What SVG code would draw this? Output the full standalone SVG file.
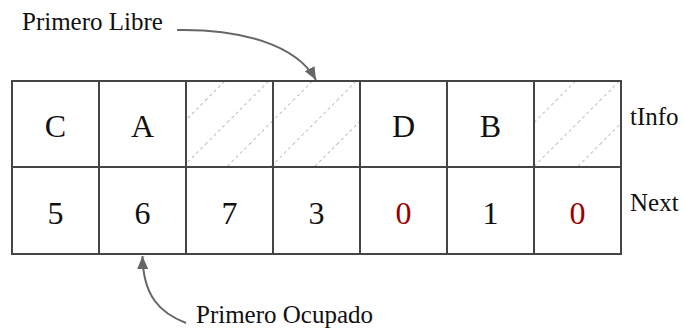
<svg xmlns="http://www.w3.org/2000/svg" width="683" height="329" viewBox="0 0 683 329">
<style>
.cell{fill:none;stroke:#444;stroke-width:2}
.val{font-family:"Liberation Serif",serif;font-size:32px;fill:#111;text-anchor:middle}
.red{fill:#990000}
.lbl{font-family:"Liberation Serif",serif;font-size:25px;fill:#111}
.hatch{stroke:#bbb;stroke-width:1;stroke-dasharray:3,3}
.conn{fill:none;stroke:#666;stroke-width:2}
</style>
<defs>
<pattern id="hp" width="31" height="31" patternUnits="userSpaceOnUse" patternTransform="rotate(-45 186 81)">
<line class="hatch" x1="0" y1="15.5" x2="31" y2="15.5"/>
</pattern>
<marker id="ah" markerUnits="userSpaceOnUse" markerWidth="14" markerHeight="12" refX="13" refY="5.5" orient="auto">
<path d="M0,0 L13,5.5 L0,11 z" fill="#666"/>
</marker>
</defs>
<rect width="683" height="329" fill="#fff"/>
<g id="hatches">
<rect x="186" y="81" width="87" height="86" fill="url(#hp)"/>
<rect x="273" y="81" width="87" height="86" fill="url(#hp)"/>
<rect x="534" y="81" width="87" height="86" fill="url(#hp)"/>
</g>
<g id="col1"><rect class="cell" x="12" y="81" width="87" height="86"/><rect class="cell" x="12" y="167" width="87" height="87"/><text class="val" x="55.5" y="137">C</text><text class="val" x="55.5" y="224">5</text></g>
<g id="col2"><rect class="cell" x="99" y="81" width="87" height="86"/><rect class="cell" x="99" y="167" width="87" height="87"/><text class="val" x="142.5" y="137">A</text><text class="val" x="142.5" y="224">6</text></g>
<g id="col3"><rect class="cell" x="186" y="81" width="87" height="86"/><rect class="cell" x="186" y="167" width="87" height="87"/><text class="val" x="229.5" y="224">7</text></g>
<g id="col4"><rect class="cell" x="273" y="81" width="87" height="86"/><rect class="cell" x="273" y="167" width="87" height="87"/><text class="val" x="316.5" y="224">3</text></g>
<g id="col5"><rect class="cell" x="360" y="81" width="87" height="86"/><rect class="cell" x="360" y="167" width="87" height="87"/><text class="val" x="403.5" y="137">D</text><text class="val red" x="403.5" y="224">0</text></g>
<g id="col6"><rect class="cell" x="447" y="81" width="87" height="86"/><rect class="cell" x="447" y="167" width="87" height="87"/><text class="val" x="490.5" y="137">B</text><text class="val" x="490.5" y="224">1</text></g>
<g id="col7"><rect class="cell" x="534" y="81" width="87" height="86"/><rect class="cell" x="534" y="167" width="87" height="87"/><text class="val red" x="577.5" y="224">0</text></g>
<g id="labels">
<text class="lbl" x="630" y="125">tInfo</text>
<text class="lbl" x="630" y="211">Next</text>
<text id="primero-libre" class="lbl" x="22" y="30">Primero Libre</text>
<text id="primero-ocupado" class="lbl" x="196" y="323">Primero Ocupado</text>
</g>
<g id="connectors">
<path class="conn" d="M177,30 C240,29 296,44 316,80" marker-end="url(#ah)"/>
<path class="conn" d="M186,323 C160,313 143,296 142.5,256" marker-end="url(#ah)"/>
</g>
</svg>
